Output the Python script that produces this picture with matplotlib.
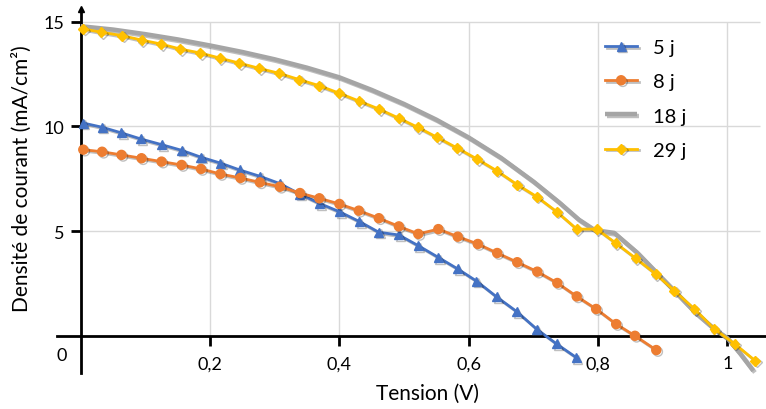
import matplotlib
matplotlib.use('Agg')
import matplotlib.pyplot as plt
import matplotlib.patheffects as pe

plt.rcParams['font.family'] = ['Lato', 'DejaVu Sans']

# courbes J(V)
v_5j = [0.004, 0.033, 0.063, 0.093, 0.125, 0.156, 0.186, 0.216, 0.246, 0.277,
        0.308, 0.339, 0.369, 0.400, 0.431, 0.461, 0.492, 0.522, 0.553, 0.583,
        0.612, 0.643, 0.674, 0.705, 0.736, 0.766]
j_5j = [10.16, 9.96, 9.69, 9.40, 9.13, 8.86, 8.53, 8.25, 7.92, 7.62,
        7.27, 6.77, 6.33, 5.93, 5.46, 4.95, 4.82, 4.31, 3.75, 3.20,
        2.62, 1.87, 1.17, 0.33, -0.38, -1.02]

v_8j = [0.004, 0.033, 0.063, 0.094, 0.125, 0.156, 0.186, 0.216, 0.247, 0.277,
        0.308, 0.339, 0.369, 0.400, 0.430, 0.461, 0.492, 0.522, 0.553, 0.583,
        0.614, 0.644, 0.675, 0.706, 0.737, 0.767, 0.797, 0.828, 0.857, 0.890]
j_8j = [8.89, 8.79, 8.64, 8.48, 8.32, 8.16, 7.97, 7.73, 7.54, 7.33,
        7.12, 6.82, 6.57, 6.30, 5.98, 5.62, 5.23, 4.87, 5.10, 4.74,
        4.39, 3.96, 3.52, 3.07, 2.53, 1.89, 1.29, 0.57, 0.01, -0.67]

v_18j = [0.0, 0.05, 0.1, 0.15, 0.2, 0.25, 0.3, 0.35, 0.4, 0.45, 0.5, 0.55,
         0.6, 0.65, 0.7, 0.74, 0.77, 0.795, 0.825, 0.86, 0.89, 0.92, 0.95,
         0.98, 1.0, 1.02, 1.04]
j_18j = [14.78, 14.62, 14.40, 14.15, 13.86, 13.55, 13.20, 12.80, 12.34, 11.74,
         11.07, 10.32, 9.47, 8.50, 7.37, 6.37, 5.56, 5.05, 4.92, 3.99, 3.04,
         2.09, 1.13, 0.33, -0.10, -0.85, -1.66]

v_29j = [0.004, 0.032, 0.064, 0.094, 0.124, 0.154, 0.185, 0.215, 0.245, 0.276,
         0.307, 0.338, 0.369, 0.400, 0.431, 0.461, 0.492, 0.521, 0.551, 0.582,
         0.613, 0.643, 0.675, 0.705, 0.736, 0.767, 0.798, 0.827, 0.858, 0.889,
         0.918, 0.949, 0.980, 1.011, 1.043]
j_29j = [14.65, 14.49, 14.33, 14.12, 13.93, 13.69, 13.50, 13.26, 13.02, 12.77,
         12.53, 12.23, 11.94, 11.58, 11.20, 10.83, 10.39, 9.96, 9.48, 8.97,
         8.44, 7.89, 7.22, 6.65, 5.93, 5.10, 5.10, 4.44, 3.71, 2.96,
         2.16, 1.29, 0.33, -0.37, -1.18]

x_ticks = [0.2, 0.4, 0.6, 0.8, 1.0]
x_labels = ['0,2', '0,4', '0,6', '0,8', '1']
y_ticks = [5, 10, 15]
y_labels = ['5', '10', '15']

W, H = 766, 410
fig = plt.figure(figsize=(W / 100, H / 100), dpi=100)
ax = fig.add_axes([56.8 / W, 1 - 373.7 / H, (766.2 - 56.8) / W, (373.7 - 10) / H])
ax.set_xlim(-0.037, 1.06)
ax.set_ylim(-1.75, 15.6)

# grille
ax.vlines(x_ticks, 0, 15, color='#d9d9d9', lw=1, zorder=0)
ax.hlines(y_ticks, 0, 1.05, color='#d9d9d9', lw=1, zorder=0)

shadow = [pe.SimpleLineShadow(offset=(1.2, -1.2), shadow_color='k', alpha=0.25), pe.Normal()]

ax.plot(v_5j, j_5j, color='#4472C4', lw=2, marker='^', ms=6.5, label='5 j',
        path_effects=shadow, clip_on=False, zorder=3)
ax.plot(v_8j, j_8j, color='#ED7D31', lw=2, marker='o', ms=6.5, label='8 j',
        path_effects=shadow, clip_on=False, zorder=4)
ax.plot(v_18j, j_18j, color='#A5A5A5', lw=3.2, label='18 j',
        path_effects=shadow, clip_on=False, zorder=5, solid_capstyle='butt',
        solid_joinstyle='round')
ax.plot(v_29j, j_29j, color='#FFC000', lw=2, marker='D', ms=5, label='29 j',
        path_effects=shadow, clip_on=False, zorder=6)

# axes
for s in ['top', 'right']:
    ax.spines[s].set_visible(False)
ax.spines['left'].set_position(('data', 0))
ax.spines['bottom'].set_position(('data', 0))
ax.spines['left'].set_linewidth(2)
ax.spines['bottom'].set_linewidth(2)
ax.plot(0, 15.6, marker='^', color='k', ms=5, clip_on=False, zorder=7)

ax.set_xticks(x_ticks)
ax.set_xticklabels(x_labels)
ax.set_yticks(y_ticks)
ax.set_yticklabels(y_labels)
ax.tick_params(axis='both', direction='out', length=7, width=2, labelsize=13)
ax.tick_params(axis='x', pad=7)
ax.tick_params(axis='y', pad=5)

fig.text(62 / W, 1 - 356.5 / H, '0', ha='center', va='center', fontsize=13)
fig.text(22 / W, 1 - 179 / H, 'Densité de courant (mA/cm²)', rotation=90,
         ha='center', va='center', fontsize=15)
fig.text(428 / W, 1 - 394 / H, 'Tension (V)', ha='center', va='center', fontsize=15)

ax.legend(loc='upper left', bbox_to_anchor=(605 / W, 1 - 40 / H),
          bbox_transform=fig.transFigure, frameon=False, fontsize=14.5,
          numpoints=1, handlelength=1.6, handletextpad=0.8, labelspacing=0.85,
          borderpad=0, borderaxespad=0)

fig.savefig('out.png', dpi=100)
